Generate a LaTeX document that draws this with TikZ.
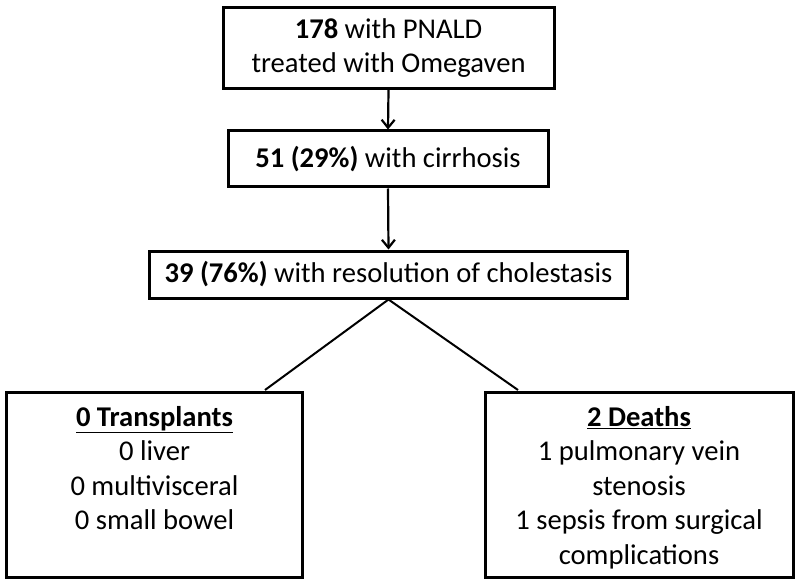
\documentclass[tikz,border=0pt]{standalone}
\usepackage{fontspec}
\setmainfont{Carlito}
\usetikzlibrary{arrows.meta}
\begin{document}
\begin{tikzpicture}[x=1bp,y=-1bp,
  box/.style={draw,line width=3bp,inner sep=0pt,align=center,font=\fontsize{28.6bp}{34bp}\selectfont},
  tbox/.style={inner sep=0pt,align=center,font=\fontsize{28.6bp}{34.5bp}\selectfont,anchor=north},
  conn/.style={line width=2bp},
  arr/.style={line width=2.2bp,-{Straight Barb[length=8bp,width=13bp,line width=2.2bp]}}]
\useasboundingbox (0,0) rectangle (800,585);
\node[box,minimum width=331bp,minimum height=81bp] (b1) at (388.5,48) {\textbf{178} with PNALD\\treated with Omegaven};
\node[box,minimum width=320bp,minimum height=56bp] (b2) at (388,159) {\textbf{51 (29\%)} with cirrhosis};
\node[box,minimum width=477bp,minimum height=47bp] (b3) at (388.5,274.5) {\textbf{39 (76\%)} with resolution of cholestasis};
\node[box,minimum width=295bp,minimum height=185bp] (b4) at (154.5,484.5) {};
\node[box,minimum width=308bp,minimum height=185bp] (b5) at (639,484.5) {};
\node[tbox] (t4) at (154.5,406) {\textbf{\underline{0 Transplants}}\\0 liver\\0 multivisceral\\0 small bowel};
\node[tbox] (t5) at (639,406) {\textbf{\underline{2 Deaths}}\\1 pulmonary vein\\stenosis\\1 sepsis from surgical\\complications};
\draw[arr] (b1.south) -- (b2.north);
\draw[arr] (b2.south) -- (b3.north);
\coordinate (l4) at (265,390);
\coordinate (l5) at (518,390);
\draw[conn] (b3.south) -- (l4);
\draw[conn] (b3.south) -- (l5);
\end{tikzpicture}
\end{document}
